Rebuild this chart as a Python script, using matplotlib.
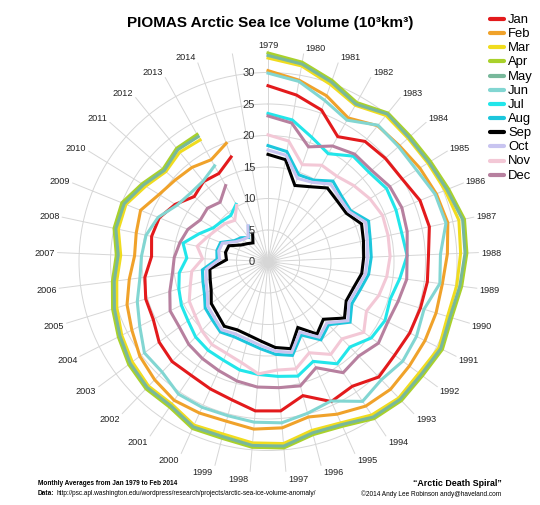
import numpy as np
import matplotlib
matplotlib.use("Agg")
import matplotlib.pyplot as plt
from matplotlib.lines import Line2D
from matplotlib import transforms

plt.rcParams['font.family'] = ['Liberation Sans', 'DejaVu Sans']

years = list(range(1979, 2015))
months = ['Jan', 'Feb', 'Mar', 'Apr', 'May', 'Jun', 'Jul', 'Aug', 'Sep', 'Oct', 'Nov', 'Dec']
colors = ['#e31a1c', '#f0a22a', '#f0dc1e', '#a9d12b', '#78b89b', '#82d6d2',
          '#22e6ea', '#1cc6dc', '#000000', '#c8c4f0', '#f3c8d6', '#b7809f']

# monthly average volume, 10^3 km^3 (1979 ... 2013, Jan/Feb also 2014)
jan = [27.9, 26.8, 25.5, 22.7, 24.5, 24.8, 25.0, 26.0, 26.2, 25.5, 25.5, 25.3, 25.2, 25.0, 25.4, 23.9, 24.4, 22.0,
       23.8, 23.8, 22.7, 22.2, 21.8, 22.0, 21.5, 20.4, 20.3, 19.7, 18.5, 18.9, 18.6, 17.3, 15.6, 16.3, 16.0, 17.6]
feb = [30.3, 29.2, 27.9, 26.1, 27.7, 27.8, 28.3, 28.8, 29.2, 28.5, 27.9, 27.9, 27.9, 27.9, 28.1, 27.7, 26.6, 25.5,
       26.5, 26.7, 26.2, 26.4, 26.6, 26.0, 25.3, 24.2, 23.4, 22.2, 21.2, 21.4, 21.8, 20.3, 19.6, 19.2, 18.5, 19.9]
mar = [32.3, 31.5, 29.8, 28.4, 29.8, 29.6, 29.8, 30.3, 31.0, 30.6, 30.2, 29.8, 30.4, 29.8, 30.0, 29.4, 28.1, 27.7,
       29.0, 28.9, 28.3, 28.5, 27.3, 27.4, 26.8, 26.0, 25.1, 24.2, 23.4, 24.3, 24.3, 22.8, 21.6, 22.3, 22.1]
apr = [33.1, 32.1, 30.5, 28.9, 30.3, 30.1, 30.3, 30.9, 31.9, 31.6, 31.0, 30.5, 31.0, 30.5, 30.6, 30.1, 28.7, 28.4,
       29.7, 29.6, 29.0, 29.1, 27.9, 28.0, 27.5, 26.6, 25.8, 24.9, 24.1, 25.0, 25.0, 23.5, 22.2, 23.1, 23.1]
may = [32.7, 31.8, 30.2, 28.6, 30.1, 29.8, 30.0, 30.6, 31.6, 31.3, 30.7, 30.2, 30.7, 30.2, 30.3, 29.8, 28.4, 28.1,
       29.4, 29.3, 28.7, 28.8, 27.6, 27.7, 27.2, 26.3, 25.5, 24.6, 23.8, 24.7, 24.6, 23.2, 21.9, 22.8, 22.7]
jun = [29.9, 29.0, 27.1, 25.7, 27.8, 27.6, 27.7, 28.6, 28.9, 27.4, 27.5, 25.9, 26.4, 26.6, 26.0, 26.8, 24.3, 24.9,
       25.7, 25.6, 25.3, 25.4, 25.4, 24.3, 24.4, 22.8, 21.7, 20.5, 20.1, 19.8, 18.8, 17.0, 16.4, 16.4, 17.4]
jul = [23.5, 22.8, 20.9, 19.6, 21.5, 21.4, 22.1, 21.9, 21.7, 22.1, 21.1, 20.3, 20.8, 20.4, 18.8, 19.6, 17.4, 18.8,
       18.3, 18.0, 17.8, 17.2, 17.0, 16.6, 15.8, 15.4, 14.8, 14.2, 12.9, 13.8, 11.8, 10.2, 9.7, 9.4, 10.4]
aug = [18.4, 17.7, 14.6, 14.8, 16.4, 15.6, 15.4, 17.2, 16.6, 16.4, 16.1, 15.3, 14.9, 16.2, 13.9, 15.0, 12.8, 15.4,
       14.8, 13.9, 13.3, 13.1, 13.5, 12.8, 12.4, 11.3, 10.8, 10.5, 8.1, 8.3, 8.1, 6.3, 5.7, 4.9, 6.4]
sep = [17.0, 16.4, 12.8, 13.6, 15.0, 14.6, 14.6, 16.0, 15.5, 15.2, 15.0, 14.2, 13.9, 15.1, 12.7, 13.9, 11.5, 14.3,
       13.7, 12.7, 12.1, 11.9, 12.4, 11.6, 11.2, 10.1, 9.6, 9.3, 6.6, 6.9, 6.7, 5.0, 4.3, 3.8, 5.0]
oct_ = [17.7, 17.1, 14.0, 14.4, 15.8, 15.2, 15.1, 16.7, 16.1, 15.8, 15.6, 14.8, 14.4, 15.8, 13.5, 14.5, 12.3, 14.9,
        14.3, 13.4, 12.8, 12.6, 13.1, 12.3, 11.9, 10.8, 10.3, 9.9, 7.7, 8.0, 7.8, 6.0, 5.3, 5.0, 6.5]
nov = [20.1, 19.4, 16.3, 17.5, 17.4, 18.2, 19.0, 19.6, 19.5, 19.4, 19.0, 18.4, 17.5, 18.9, 17.0, 17.8, 15.9, 17.6,
       17.3, 17.9, 16.6, 16.0, 15.9, 15.2, 14.4, 14.0, 12.9, 12.2, 10.4, 11.5, 10.4, 9.6, 9.1, 8.4, 10.2]
dec = [23.1, 22.3, 19.3, 21.0, 21.9, 21.9, 22.7, 22.9, 22.6, 22.1, 22.2, 21.6, 21.3, 21.8, 20.8, 21.3, 18.5, 20.4,
       20.1, 20.0, 19.6, 19.0, 18.6, 18.2, 17.5, 17.4, 16.3, 15.3, 14.9, 14.3, 13.7, 12.6, 12.8, 12.1, 13.8]
series = [jan, feb, mar, apr, may, jun, jul, aug, sep, oct_, nov, dec]
rticks = [0, 5, 10, 15, 20, 25, 30]

nslots = len(years) + 1          # one empty spoke between 2014 and 1979
theta = np.arange(nslots) * 2 * np.pi / nslots
rmax = 33.5

W, H = 540, 506
cx, cy, scale = 268, 262.5, 6.3   # centre in pixels (from top), px per unit
R = rmax * scale

fig = plt.figure(figsize=(W / 100, H / 100), dpi=100)
ax = fig.add_axes([(cx - R) / W, (H - cy - R) / H, 2 * R / W, 2 * R / H], projection='polar')
ax.set_theta_zero_location('N')
ax.set_theta_direction(-1)
ax.set_ylim(0, rmax)
ax.set_xticks(theta)
ax.set_xticklabels([])
ax.set_yticks(rticks[1:])
ax.set_yticklabels([])
ax.grid(True, color='#d6d6d6', lw=0.7)
ax.spines['polar'].set_visible(False)
ax.tick_params(length=0)

# grey blur at the centre
for s, a in [(260, 0.15), (150, 0.25), (60, 0.35)]:
    ax.scatter([0], [0], s=s, color='#c8c8c8', alpha=a, lw=0, zorder=1)

for vals, c in zip(series, colors):
    ax.plot(theta[:len(vals)], vals, color=c, lw=2.2, solid_joinstyle='miter', zorder=3)

# year labels at the ends of the spokes
for t, y in zip(theta, years):
    s, c = np.sin(t), np.cos(t)
    if abs(s) < 0.02:
        ha, dx = 'center', 0
    elif s > 0:
        ha, dx = 'left', 2
    else:
        ha, dx = 'right', -2
    tr = transforms.offset_copy(ax.transData, fig=fig, x=dx * 0.72, y=6.3 * c * 0.72, units='points')
    ax.text(t, rmax, str(y), transform=tr, ha=ha, va='center', fontsize=6.6, color='#222222')

# radial labels left of the 1979 spoke
off = transforms.offset_copy(ax.transData, fig=fig, x=-13 * 0.72, y=0, units='points')
for r in rticks:
    ax.text(0, r, str(r), transform=off, ha='right', va='center', fontsize=8,
            color='#333333', zorder=4)

fig.text(270 / W, 1 - 23.3 / H, 'PIOMAS Arctic Sea Ice Volume (10³km³)', ha='center', va='center',
         fontsize=11, fontweight='bold')

# legend
for i, (m, c) in enumerate(zip(months, colors)):
    y = 1 - (20 + i * 14.15) / H
    fig.add_artist(Line2D([490 / W, 504 / W], [y, y], color=c, lw=3,
                          solid_capstyle='round', transform=fig.transFigure))
    fig.text(508 / W, y, m, ha='left', va='center', fontsize=9.4)

fig.text(38 / W, 1 - 484 / H, 'Monthly Averages from Jan 1979 to Feb 2014', ha='left',
         va='center', fontsize=4.7, fontweight='bold')
fig.text(38 / W, 1 - 494 / H, 'Data:', ha='left', va='center', fontsize=4.7, fontweight='bold')
fig.text(56.5 / W, 1 - 494 / H,
         'http://psc.apl.washington.edu/wordpress/research/projects/arctic-sea-ice-volume-anomaly/',
         ha='left', va='center', fontsize=4.7)
fig.text(501.5 / W, 1 - 483.3 / H, '\u201cArctic Death Spiral\u201d', ha='right', va='center',
         fontsize=6.4, fontweight='bold')
fig.text(501.5 / W, 1 - 494 / H, '\u00a92014 Andy Lee Robinson andy@haveland.com', ha='right',
         va='center', fontsize=4.7)

fig.savefig('out.png', dpi=100, facecolor='white')
